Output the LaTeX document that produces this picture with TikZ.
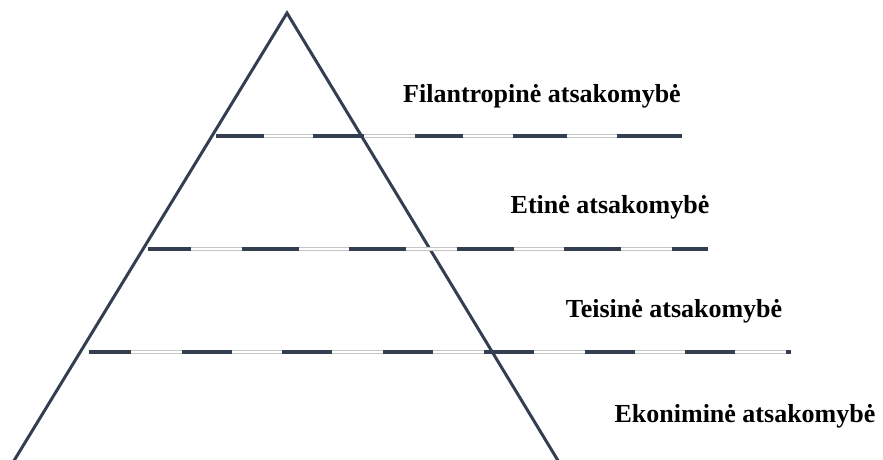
\documentclass[tikz,border=0pt]{standalone}
\usepackage{fontspec}
\setmainfont{Liberation Serif}
\definecolor{navy}{HTML}{333F50}
\begin{document}
\begin{tikzpicture}[
			x=1pt, y=-1pt,
			side/.style={draw=navy, line width=3pt, line join=miter},
			rail/.style={draw=gray!45, line width=1pt, double=white, double distance=2pt},
			rung/.style={draw=navy, line width=4pt},
			tier/.style={font=\fontsize{26}{30}\selectfont\bfseries, inner sep=0pt, anchor=base}
		]
		\useasboundingbox (0,0) rectangle (883,459);
		\clip (0,0) rectangle (883,459);
		% pyramid
		\coordinate (apex) at (287,13);
		\coordinate (bl) at (8.3,470);
		\coordinate (br) at (563.7,470);
		\draw[side] (bl) -- (apex) -- (br);
		% dashed levels
		\coordinate (r1a) at (216,136);
		\coordinate (r1b) at (682,136);
		\coordinate (r2a) at (148,249);
		\coordinate (r2b) at (708,249);
		\coordinate (r3a) at (89,352);
		\coordinate (r3b) at (791,352);
		\draw[rail] (r1a) -- (r1b);
		\draw[rail] (r2a) -- (r2b);
		\draw[rail] (r3a) -- (r3b);
		\draw[rung, dash pattern=on 48pt off 49pt on 51pt off 51pt on 48pt off 50pt on 54pt off 50pt on 65pt] (r1a) -- (r1b);
		\draw[rung, dash pattern=on 57pt off 50.5pt, dash phase=14pt] (r2a) -- (r2b);
		\draw[rung, dash pattern=on 50pt off 50.7pt, dash phase=8pt] (r3a) -- (r3b);
		% texts
		\node[tier] (fil) at (542,102) {Filantropinė atsakomybė};
		\node[tier] (eti) at (610,213) {Etinė atsakomybė};
		\node[tier] (tei) at (674,317) {Teisinė atsakomybė};
		\node[tier] (eko) at (745,422) {Ekoniminė atsakomybė};
	\end{tikzpicture}
\end{document}
